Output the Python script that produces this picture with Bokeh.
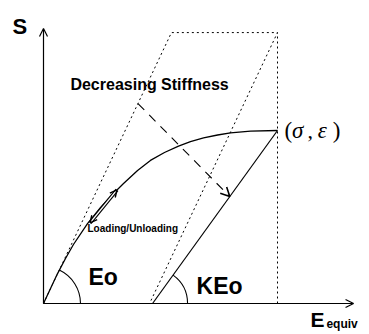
from bokeh.plotting import figure
from bokeh.models import Range1d, Arrow, OpenHead
from bokeh.core.properties import value
from bokeh.embed import file_html
from bokeh.resources import INLINE
import math

# Normalised stress-strain curve (peak at strain 1, stress 1)
strain = [0.0, 0.030, 0.060, 0.094, 0.128, 0.188, 0.244, 0.299, 0.342, 0.402,
          0.457, 0.517, 0.577, 0.628, 0.684, 0.744, 0.799, 0.885, 1.0]
stress = [0.0, 0.087, 0.173, 0.260, 0.341, 0.462, 0.555, 0.636, 0.694, 0.769,
          0.827, 0.873, 0.910, 0.936, 0.957, 0.974, 0.986, 0.996, 1.0]

peak_strain = 1.0
peak_stress = 1.0
E0 = 2.864            # initial (tangent) stiffness
K = 0.654             # stiffness reduction factor for unloading
box_top = 1.566       # upper edge of the stiffness envelope
residual_strain = peak_strain - peak_stress / (K * E0)

axis_x_end = 1.325
axis_y_end = 1.590

# stress levels where the "decreasing stiffness" arrow starts and ends
arrow_from_stress = 1.156
arrow_to_stress = 0.618

# loading/unloading double arrow end points
lu_strain = [0.199, 0.314]
lu_stress = [0.466, 0.657]

W, H = 369, 334
p = figure(width=W, height=H, x_range=Range1d(-0.18376, 1.39316),
           y_range=Range1d(-0.17919, 1.75145), toolbar_location=None,
           output_backend="svg", x_axis_location=None, y_axis_location=None,
           min_border=0, outline_line_color=None)
p.grid.visible = False
p.background_fill_color = "white"
p.border_fill_color = "white"

FONT = value("Liberation Sans")

# axes drawn as arrows
p.add_layout(Arrow(x_start=0, y_start=0, x_end=0, y_end=axis_y_end,
                   line_color="black", line_width=1.2,
                   end=OpenHead(size=8, line_width=1.2, line_color="black")))
p.add_layout(Arrow(x_start=0, y_start=0, x_end=axis_x_end, y_end=0,
                   line_color="black", line_width=1.2,
                   end=OpenHead(size=8, line_width=1.2, line_color="black")))

# stiffness envelope (dotted)
left_top = box_top / E0
right_bottom = peak_strain - box_top / E0
p.line([0, left_top, peak_strain, right_bottom],
       [0, box_top, box_top, 0],
       line_color="black", line_width=1, line_dash="2 3")
p.line([peak_strain, peak_strain], [0, box_top],
       line_color="black", line_width=1, line_dash="2 3")

# stress-strain curve
p.line(strain, stress, line_color="black", line_width=1.3)

# unloading branch with reduced stiffness
p.line([peak_strain, residual_strain], [peak_stress, 0],
       line_color="black", line_width=1.2)

# angle markers
a0 = math.atan2(box_top * 173, left_top * 234)
p.arc(x=[0], y=[0], radius=37, radius_units="screen", start_angle=0,
      end_angle=a0, line_color="black", line_width=1.1)
a1 = math.atan2(peak_stress * 173, (peak_strain - residual_strain) * 234)
p.arc(x=[residual_strain], y=[0], radius=35, radius_units="screen",
      start_angle=0, end_angle=a1, line_color="black", line_width=1.1)

# decreasing stiffness arrow (dashed)
xs0 = arrow_from_stress / E0
xs1 = residual_strain + arrow_to_stress / (K * E0)
p.add_layout(Arrow(x_start=xs0, y_start=arrow_from_stress, x_end=xs1,
                   y_end=arrow_to_stress, line_color="black", line_width=1.1,
                   line_dash="9 7",
                   end=OpenHead(size=9, line_width=1.6, line_color="black")))

# loading / unloading double arrow
p.line(lu_strain, lu_stress, line_color="black", line_width=3.6)
p.line(lu_strain, lu_stress, line_color="white", line_width=1.4)
p.add_layout(Arrow(x_start=lu_strain[0], y_start=lu_stress[0],
                   x_end=lu_strain[1], y_end=lu_stress[1], line_alpha=0,
                   start=OpenHead(size=7, line_width=1.4, line_color="black"),
                   end=OpenHead(size=7, line_width=1.4, line_color="black")))


def label(x, y, t, size, style="bold", font=FONT):
    p.text(x=[x], y=[y], text=[t], text_font=font, text_font_size=size,
           text_font_style=style, text_color="black", text_baseline="middle",
           text_align="left")


label(-0.1325, 1.600, "S", "22px")
label(0.115, 1.266, "Decreasing Stiffness", "16px")
label(0.188, 0.434, "Loading/Unloading", "10px")
label(0.192, 0.153, "Eo", "23px")
label(0.654, 0.104, "KEo", "23px")
label(1.141, -0.095, "E", "21px")
label(1.209, -0.121, "equiv", "12px")

# peak point label
serif = value("Liberation Serif")
label(1.030, peak_stress, "(", "23px", style="normal", font=serif)
label(1.062, peak_stress, "σ", "23px", style="italic", font=serif)
label(1.128, peak_stress, ",", "22px", style="normal", font=serif)
label(1.172, peak_stress, "ε", "23px", style="italic", font=serif)
label(1.236, peak_stress, ")", "23px", style="normal", font=serif)

open("out.html", "w").write(file_html(p, INLINE))
